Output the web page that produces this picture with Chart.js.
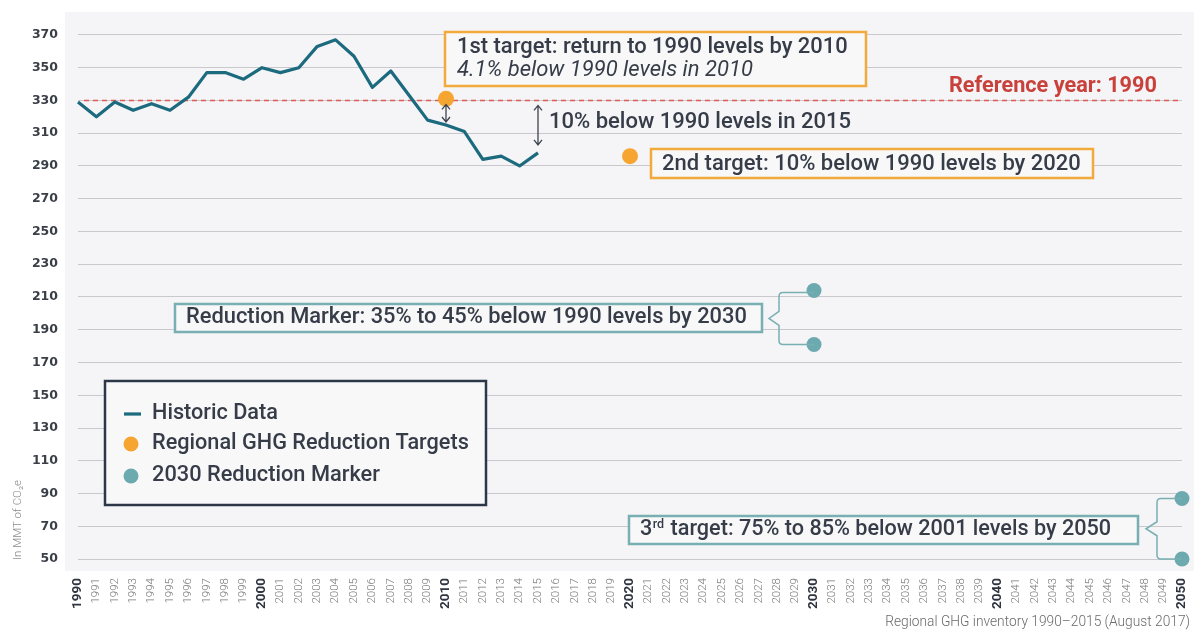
<!DOCTYPE html>
<html>
<head>
<meta charset="utf-8">
<script src="https://cdn.jsdelivr.net/npm/chart.js@4/dist/chart.umd.min.js"></script>
<style>
  html, body { margin: 0; padding: 0; background: #ffffff; }
  #wrap { width: 1194px; height: 631px; }
</style>
</head>
<body>
<div id="wrap"><canvas id="c" width="1194" height="631"></canvas></div>
<script>
// ---------------- DATA ----------------
const yearLabels = ['1990','1991','1992','1993','1994','1995','1996','1997','1998','1999',
  '2000','2001','2002','2003','2004','2005','2006','2007','2008','2009',
  '2010','2011','2012','2013','2014','2015','2016','2017','2018','2019',
  '2020','2021','2022','2023','2024','2025','2026','2027','2028','2029',
  '2030','2031','2032','2033','2034','2035','2036','2037','2038','2039',
  '2040','2041','2042','2043','2044','2045','2046','2047','2048','2049','2050'];
const majorYears = ['1990','2000','2010','2020','2030','2040','2050'];

const historicYears = ['1990','1991','1992','1993','1994','1995','1996','1997','1998','1999',
  '2000','2001','2002','2003','2004','2005','2006','2007','2008','2009',
  '2010','2011','2012','2013','2014','2015'];
const historicValues = [329, 320, 329, 324, 328, 324, 332, 347, 347, 343,
  350, 347, 350, 363, 367, 357, 338, 348, 333, 318,
  315, 311, 294, 296, 290, 298];

const targetYears = ['2010', '2020'];
const targetValues = [331, 296];

const markerYears = ['2030', '2030', '2050', '2050'];
const markerValues = [214, 181, 87, 50];

const referenceValue = 330;
const yTickValues = [50, 70, 90, 110, 130, 150, 170, 190, 210, 230, 250, 270, 290, 310, 330, 350, 370];
const yMin = 42.7, yMax = 384;

// ---------------- STYLE ----------------
const C = {
  bg: '#f5f4f6',
  boxFill: '#f8f8f9',
  line: '#1b6a7e',
  orange: '#f6a531',
  orangeBorder: '#f2aa3c',
  teal: '#6caaaf',
  tealBorder: '#78afb3',
  text: '#363c48',
  red: '#c9413b',
  refLine: '#de5a55',
  grid: '#c9c9cd',
  arrow: '#3d4450',
  legendBorder: '#2c3848'
};

function fitFont(ctx, text, weight, family, target, style) {
  style = style || 'normal';
  ctx.font = style + ' ' + weight + ' 20px ' + family;
  const w = ctx.measureText(text).width;
  const size = 20 * target / w;
  ctx.font = style + ' ' + weight + ' ' + size.toFixed(2) + 'px ' + family;
  return size;
}
function drawFitText(ctx, text, x, y, width, weight, color, style, align) {
  fitFont(ctx, text, weight, 'Roboto', width, style);
  ctx.fillStyle = color;
  ctx.textAlign = align || 'left';
  ctx.textBaseline = 'middle';
  ctx.fillText(text, x, y);
}
function drawBox(ctx, x1, y1, x2, y2, color) {
  ctx.fillStyle = C.boxFill;
  ctx.fillRect(x1, y1, x2 - x1, y2 - y1);
  ctx.strokeStyle = color;
  ctx.lineWidth = 2.5;
  ctx.strokeRect(x1, y1, x2 - x1, y2 - y1);
}
function drawDoubleArrow(ctx, x, yTop, yBot) {
  ctx.strokeStyle = C.arrow;
  ctx.lineWidth = 1.3;
  ctx.beginPath();
  ctx.moveTo(x, yTop); ctx.lineTo(x, yBot);
  ctx.moveTo(x - 4, yTop + 5); ctx.lineTo(x, yTop); ctx.lineTo(x + 4, yTop + 5);
  ctx.moveTo(x - 4, yBot - 5); ctx.lineTo(x, yBot); ctx.lineTo(x + 4, yBot - 5);
  ctx.stroke();
}
function drawBrace(ctx, xTip, xV, yTop, yBot, xDot) {
  const ym = (yTop + yBot) / 2, r = 4;
  ctx.strokeStyle = C.tealBorder;
  ctx.lineWidth = 1.5;
  ctx.beginPath();
  ctx.moveTo(xDot, yTop);
  ctx.lineTo(xV + r, yTop);
  ctx.quadraticCurveTo(xV, yTop, xV, yTop + r);
  ctx.lineTo(xV, ym - 7);
  ctx.lineTo(xTip, ym);
  ctx.lineTo(xV, ym + 7);
  ctx.lineTo(xV, yBot - r);
  ctx.quadraticCurveTo(xV, yBot, xV + r, yBot);
  ctx.lineTo(xDot, yBot);
  ctx.stroke();
}

const decorPlugin = {
  id: 'decor',
  beforeDraw(chart) {
    const { ctx, chartArea: a } = chart;
    ctx.save();
    ctx.fillStyle = C.bg;
    ctx.fillRect(a.left - 13, a.top, chart.width - (a.left - 13), a.bottom - a.top);
    ctx.restore();
  },
  beforeDatasetsDraw(chart) {
    const { ctx, chartArea: a, scales: { y } } = chart;
    const yr = y.getPixelForValue(referenceValue);
    ctx.save();
    ctx.strokeStyle = C.refLine;
    ctx.lineWidth = 1.4;
    ctx.setLineDash([5, 4]);
    ctx.beginPath();
    ctx.moveTo(a.left + 6, yr);
    ctx.lineTo(a.right, yr);
    ctx.stroke();
    ctx.restore();
  },
  afterDraw(chart) {
    const { ctx, scales: { x, y } } = chart;
    const px = (yr) => x.getPixelForValue(yearLabels.indexOf(yr));
    ctx.save();

    // Reference year label
    drawFitText(ctx, 'Reference year: 1990', 949, 87, 208, 700, C.red);

    // 1st target box
    drawBox(ctx, 445, 32, 866, 86, C.orangeBorder);
    drawFitText(ctx, '1st target: return to 1990 levels by 2010', 457, 48, 391, 500, C.text);
    drawFitText(ctx, '4.1% below 1990 levels in 2010', 457, 71, 296, 400, C.text, 'italic');

    // arrows
    const yRef = y.getPixelForValue(referenceValue);
    const i2010 = historicYears.indexOf('2010');
    const i2015 = historicYears.indexOf('2015');
    drawDoubleArrow(ctx, px('2010'), yRef + 4, y.getPixelForValue(historicValues[i2010]) - 3);
    drawDoubleArrow(ctx, px('2015'), yRef + 5, y.getPixelForValue(historicValues[i2015]) - 8);
    drawFitText(ctx, '10% below 1990 levels in 2015', 549, 122, 302, 500, C.text);

    // 2nd target box
    drawBox(ctx, 651, 149, 1093, 178, C.orangeBorder);
    drawFitText(ctx, '2nd target: 10% below 1990 levels by 2020', 662, 164, 419, 500, C.text);

    // Reduction marker box + brace
    drawBox(ctx, 175, 304, 762, 332, C.tealBorder);
    drawFitText(ctx, 'Reduction Marker: 35% to 45% below 1990 levels by 2030', 186, 318, 561, 500, C.text);
    drawBrace(ctx, 769, 779, y.getPixelForValue(markerValues[0]) + 2, y.getPixelForValue(markerValues[1]), px('2030'));

    // 3rd target box + brace
    drawBox(ctx, 629, 516, 1138, 544, C.tealBorder);
    {
      const size = fitFont(ctx, '3rd target: 75% to 85% below 2001 levels by 2050', 500, 'Roboto', 478);
      ctx.fillStyle = C.text; ctx.textAlign = 'left'; ctx.textBaseline = 'middle';
      let cx = 640;
      ctx.fillText('3', cx, 530); cx += ctx.measureText('3').width + 0.5;
      ctx.font = 'normal 500 ' + (size * 0.58).toFixed(2) + 'px Roboto';
      ctx.fillText('rd', cx, 525); cx += ctx.measureText('rd').width + 1;
      ctx.font = 'normal 500 ' + size.toFixed(2) + 'px Roboto';
      ctx.fillText(' target: 75% to 85% below 2001 levels by 2050', cx, 530);
    }
    drawBrace(ctx, 1146, 1157, y.getPixelForValue(markerValues[2]), y.getPixelForValue(markerValues[3]), px('2050'));

    // Legend
    drawBox(ctx, 105, 381, 486, 505, C.legendBorder);
    ctx.strokeStyle = C.line; ctx.lineWidth = 3.2;
    ctx.beginPath(); ctx.moveTo(124, 414); ctx.lineTo(141, 414); ctx.stroke();
    ctx.fillStyle = C.orange;
    ctx.beginPath(); ctx.arc(131, 444, 7.5, 0, Math.PI * 2); ctx.fill();
    ctx.fillStyle = C.teal;
    ctx.beginPath(); ctx.arc(131, 476, 7.5, 0, Math.PI * 2); ctx.fill();
    drawFitText(ctx, 'Historic Data', 152, 414, 126, 500, C.text);
    drawFitText(ctx, 'Regional GHG Reduction Targets', 152, 444, 317, 500, C.text);
    drawFitText(ctx, '2030 Reduction Marker', 152, 476, 228, 500, C.text);

    // Y-axis title
    ctx.save();
    ctx.translate(18, 520);
    ctx.rotate(-Math.PI / 2);
    drawFitText(ctx, 'In MMT of CO\u2082e', 0, 0, 80, 300, '#8a8a8a', 'normal', 'center');
    ctx.restore();

    // Footnote
    drawFitText(ctx, 'Regional GHG inventory 1990\u20132015 (August 2017)', 1190, 623, 305, 300, '#6a6a6a', 'normal', 'right');

    ctx.restore();
  }
};

const toPoints = (xs, vs) => xs.map((xv, i) => ({ x: xv, y: vs[i] }));
const zeroPad = (s) => { s.paddingTop = 0; s.paddingBottom = 0; s.paddingLeft = 0; s.paddingRight = 0; };

new Chart(document.getElementById('c'), {
  type: 'line',
  data: {
    labels: yearLabels,
    datasets: [
      {
        label: 'Historic Data',
        data: toPoints(historicYears, historicValues),
        borderColor: C.line,
        borderWidth: 3.2,
        pointRadius: 0,
        tension: 0,
        fill: false,
        borderJoinStyle: 'round'
      },
      {
        label: 'Regional GHG Reduction Targets',
        data: toPoints(targetYears, targetValues),
        showLine: false,
        pointRadius: 8,
        pointBackgroundColor: C.orange,
        pointBorderWidth: 0,
        borderColor: C.orange,
        clip: false
      },
      {
        label: '2030 Reduction Marker',
        data: toPoints(markerYears, markerValues),
        showLine: false,
        pointRadius: 7.5,
        pointBackgroundColor: C.teal,
        pointBorderWidth: 0,
        borderColor: C.teal,
        clip: false
      }
    ]
  },
  options: {
    responsive: false,
    animation: false,
    devicePixelRatio: 1,
    layout: { padding: { left: 0, right: 12, top: 12, bottom: 0 } },
    plugins: {
      legend: { display: false },
      title: { display: false },
      tooltip: { enabled: false }
    },
    scales: {
      x: {
        type: 'category',
        offset: false,
        grid: { display: false, drawTicks: false },
        border: { display: false },
        ticks: {
          autoSkip: false,
          maxRotation: 90,
          minRotation: 90,
          padding: 7,
          font: (ctx) => {
            const lab = ctx.tick ? ctx.tick.label : '';
            return majorYears.includes(lab)
              ? { family: 'Roboto', size: 13.5, weight: '700' }
              : { family: 'Roboto', size: 11.5, weight: '300' };
          },
          color: (ctx) => {
            const lab = ctx.tick ? ctx.tick.label : '';
            return majorYears.includes(lab) ? '#2e3440' : '#7a7a7a';
          }
        },
        afterFit: (s) => { s.height = 60; zeroPad(s); }
      },
      y: {
        min: yMin,
        max: yMax,
        afterBuildTicks: (s) => { s.ticks = yTickValues.map(v => ({ value: v })); },
        grid: { color: C.grid, lineWidth: 1, drawTicks: false },
        border: { display: false },
        ticks: {
          padding: 20,
          color: '#3a3f47',
          font: { family: 'DejaVu Sans', size: 12.5, weight: 'bold' }
        },
        afterFit: (s) => { s.width = 78; zeroPad(s); }
      }
    }
  },
  plugins: [decorPlugin]
});
</script>
</body>
</html>
